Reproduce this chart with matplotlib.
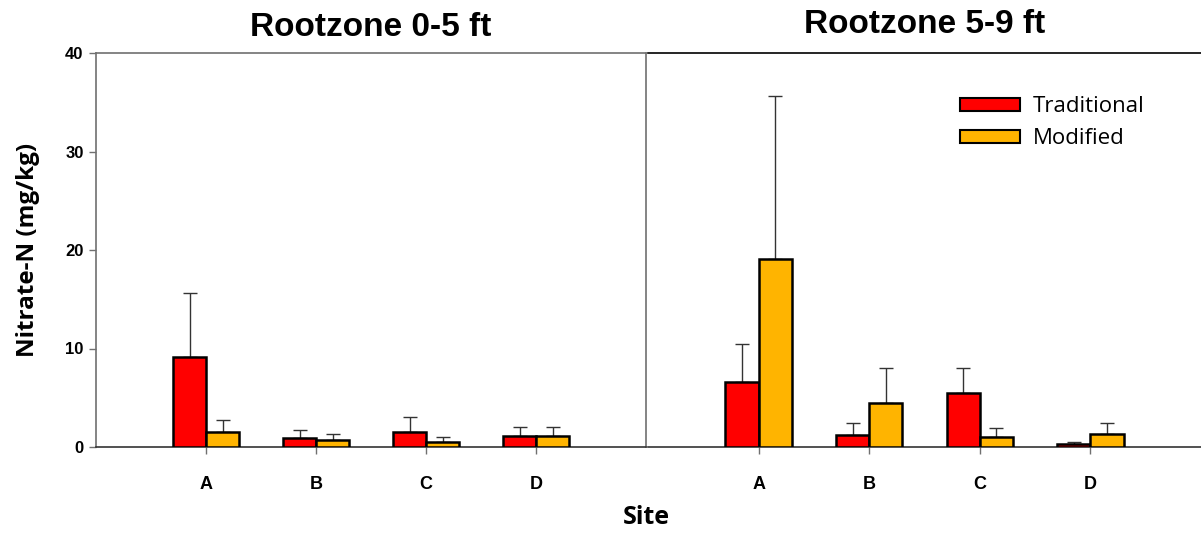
import matplotlib
matplotlib.use("Agg")
import matplotlib.pyplot as plt
from matplotlib.patches import Patch
import numpy as np

sites = ["A", "B", "C", "D"]
# Rootzone 0-5 ft
trad_0_5 = [9.15, 0.9, 1.55, 1.08]
trad_0_5_err = [6.5, 0.8, 1.5, 0.95]
mod_0_5 = [1.55, 0.7, 0.55, 1.08]
mod_0_5_err = [1.15, 0.65, 0.5, 0.95]
# Rootzone 5-9 ft
trad_5_9 = [6.55, 1.25, 5.48, 0.27]
trad_5_9_err = [3.95, 1.22, 2.52, 0.2]
mod_5_9 = [19.07, 4.5, 1.0, 1.27]
mod_5_9_err = [16.6, 3.5, 0.97, 1.2]

titles = ["Rootzone 0-5 ft", "Rootzone 5-9 ft"]
series_names = ["Traditional", "Modified"]
red = "#FF0000"
orange = "#FFB400"

W, H = 1201, 537
fig = plt.figure(figsize=(W / 100, H / 100), dpi=100)
ax1 = fig.add_axes([96 / W, (H - 447) / H, 550 / W, 394 / H])
ax2 = fig.add_axes([648 / W, (H - 447) / H, 553 / W, 394 / H])

x = np.arange(1, len(sites) + 1)
bw = 0.3
arial = "Liberation Sans"
calibri = "Open Sans"

def draw(ax, t, te, m, me):
    ax.bar(x - bw / 2, t, bw, color=red, edgecolor="black", linewidth=1.8, zorder=3)
    ax.bar(x + bw / 2, m, bw, color=orange, edgecolor="black", linewidth=1.8, zorder=3)
    ax.errorbar(x - bw / 2, t, yerr=[np.zeros(len(t)), te], fmt="none",
                ecolor="#333333", elinewidth=1.0, capsize=5, capthick=1.0, zorder=2)
    ax.errorbar(x + bw / 2, m, yerr=[np.zeros(len(m)), me], fmt="none",
                ecolor="#333333", elinewidth=1.0, capsize=5, capthick=1.0, zorder=2)
    ax.set_xlim(0, 5)
    ax.set_ylim(0, 40)
    ax.set_xticks(x)
    ax.set_xticklabels(sites, fontfamily=arial, fontweight="bold", fontsize=13)
    ax.tick_params(axis="x", direction="out", length=5, width=1, color="#707070", pad=16)

draw(ax1, trad_0_5, trad_0_5_err, mod_0_5, mod_0_5_err)
draw(ax2, trad_5_9, trad_5_9_err, mod_5_9, mod_5_9_err)

ax1.set_yticks([0, 10, 20, 30, 40])
ax1.set_yticklabels(["0", "10", "20", "30", "40"], fontfamily=arial, fontweight="bold", fontsize=12)
ax1.tick_params(axis="y", direction="out", length=5, width=1, color="#707070", pad=4)
for s in ["left", "top", "right"]:
    ax1.spines[s].set_color("#707070")
    ax1.spines[s].set_linewidth(1.2)
ax1.spines["bottom"].set_color("#333333")
ax1.spines["bottom"].set_linewidth(1.2)
ax1.set_ylabel("Nitrate-N (mg/kg)", fontfamily=calibri, fontweight="bold", fontsize=17.5, labelpad=18)

ax2.set_yticks([])
ax2.spines["left"].set_visible(False)
ax2.spines["right"].set_visible(False)
ax2.spines["top"].set_color("black")
ax2.spines["top"].set_linewidth(1.2)
ax2.spines["bottom"].set_color("#333333")
ax2.spines["bottom"].set_linewidth(1.2)

ax1.set_title(titles[0], fontfamily=arial, fontweight="bold", fontsize=24, pad=12)
ax2.set_title(titles[1], fontfamily=arial, fontweight="bold", fontsize=24, pad=14.5)

fig.text(646 / W, 1 - 518 / H, "Site", ha="center", va="center",
         fontfamily=calibri, fontweight="bold", fontsize=18)

handles = [Patch(facecolor=red, edgecolor="black", linewidth=1.5),
           Patch(facecolor=orange, edgecolor="black", linewidth=1.5)]
ax2.legend(handles, series_names, loc="upper left", bbox_to_anchor=(0.564, 0.89),
           frameon=False, prop={"family": calibri, "size": 16},
           borderpad=0, borderaxespad=0,
           handlelength=2.7, handleheight=0.55, handletextpad=0.6, labelspacing=0.5)

fig.savefig("out.png", dpi=100)
